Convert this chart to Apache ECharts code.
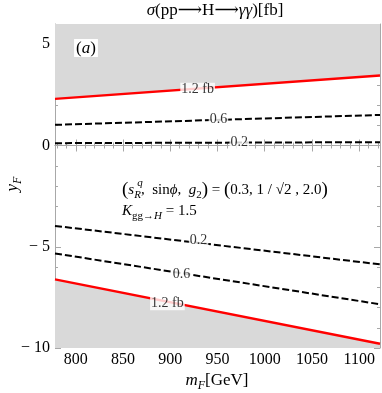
<!DOCTYPE html>
<html><head><meta charset="utf-8">
<script src="https://cdn.jsdelivr.net/npm/echarts@6/dist/echarts.min.js"></script>
<style>html,body{margin:0;padding:0;background:#fff}#c{width:382px;height:393px}</style>
</head><body><div id="c"></div>
<script>
// x samples (GeV) at the two ends of the plotted range
const mF = [778, 1122];
// contour values y_F at the ends of the range
const redTop = [2.30, 3.46];
const dash06Top = [1.02, 1.51];
const dash02Top = [0.115, 0.165];
const dash02Bot = [-3.97, -5.87];
const dash06Bot = [-5.33, -7.84];
const redBot = [-6.61, -9.79];
// contour labels [mF, yF, text]
const contourLabels = [
  [929, 2.75, '1.2 fb'],
  [951, 1.28, '0.6'],
  [973, 0.14, '0.2'],
  [930, -4.68, '0.2'],
  [912, -6.36, '0.6'],
  [897, -7.79, '1.2 fb']
];
// tick values
const xTicks = [800, 850, 900, 950, 1000, 1050, 1100];
const xMinor = [780, 790, 810, 820, 830, 840, 860, 870, 880, 890, 910, 920, 930, 940, 960, 970, 980, 990, 1010, 1020, 1030, 1040, 1060, 1070, 1080, 1090, 1110, 1120];
const yTicks = [-10, -5, 0, 5];
const yMinor = [-9, -8, -7, -6, -4, -3, -2, -1, 1, 2, 3, 4, 6];

const SERIF = 'Liberation Serif, DejaVu Serif, serif';
const AX = '#a8a8a8';
const pair = (xs, ys) => xs.map((x, i) => [x, ys[i]]);

function xAx(pos, ticks, len, labels, line) {
  return {
    type: 'value', min: mF[0], max: mF[1], position: pos,
    axisLine: { show: line, lineStyle: { color: AX, width: 1 } },
    axisTick: { show: true, inside: true, length: len, customValues: ticks, lineStyle: { color: AX } },
    axisLabel: labels ? { show: true, customValues: ticks, fontFamily: SERIF, fontSize: 16, color: '#000', margin: 4,
      formatter: v => String(v) } : { show: false },
    splitLine: { show: false }
  };
}
function yAx(pos, ticks, len, labels, line) {
  return {
    type: 'value', min: -10, max: 6, position: pos,
    axisLine: { show: line, onZero: false, lineStyle: { color: AX, width: 1 } },
    axisTick: { show: true, inside: true, length: len, customValues: ticks, lineStyle: { color: AX } },
    axisLabel: labels ? { show: true, customValues: ticks, fontFamily: SERIF, fontSize: 16, color: '#000', margin: 5,
      formatter: v => v < 0 ? '\u2212 ' + Math.abs(v) : String(v) } : { show: false },
    splitLine: { show: false }
  };
}

function mkRich(fs) {
  return {
    n: { fontFamily: SERIF, fontSize: fs, color: '#000', lineHeight: 22 },
    i: { fontFamily: SERIF, fontSize: fs, fontStyle: 'italic', color: '#000', lineHeight: 22 },
    bp: { fontFamily: SERIF, fontSize: fs + 4, color: '#000', lineHeight: 22 },
    sub: { fontFamily: SERIF, fontSize: Math.round(fs * 0.7), color: '#000', lineHeight: 22, verticalAlign: 'bottom' },
    subi: { fontFamily: SERIF, fontSize: Math.round(fs * 0.7), fontStyle: 'italic', color: '#000', lineHeight: 22, verticalAlign: 'bottom' }
  };
}

const chart = echarts.init(document.getElementById('c'), null, { renderer: 'canvas' });
chart.setOption({
  animation: false,
  backgroundColor: '#fff',
  grid: { left: 55, right: 2, top: 24, bottom: 45 },
  xAxis: [
    xAx('bottom', xTicks, 6, true, true),
    xAx('bottom', xMinor, 3, false, false),
    xAx('top', xTicks, 6, false, true),
    xAx('top', xMinor, 3, false, false)
  ],
  yAxis: [
    yAx('left', yTicks, 6, true, true),
    yAx('left', yMinor, 3, false, false),
    yAx('right', yTicks, 6, false, true),
    yAx('right', yMinor, 3, false, false)
  ],
  series: [
    { type: 'line', xAxisIndex: 0, yAxisIndex: 0, data: pair(mF, redTop), symbol: 'none', z: 1,
      lineStyle: { width: 0 }, areaStyle: { color: '#d9d9d9', opacity: 1, origin: 'end' } },
    { type: 'line', xAxisIndex: 0, yAxisIndex: 0, data: pair(mF, redBot), symbol: 'none', z: 1,
      lineStyle: { width: 0 }, areaStyle: { color: '#d9d9d9', opacity: 1, origin: 'start' } },
    { type: 'line', xAxisIndex: 0, yAxisIndex: 0, data: pair(mF, redTop), symbol: 'none', z: 3,
      lineStyle: { color: '#ff0000', width: 2.4 } },
    { type: 'line', xAxisIndex: 0, yAxisIndex: 0, data: pair(mF, redBot), symbol: 'none', z: 3,
      lineStyle: { color: '#ff0000', width: 2.4 } },
    { type: 'line', xAxisIndex: 0, yAxisIndex: 0, data: pair(mF, dash06Top), symbol: 'none', z: 3,
      lineStyle: { color: '#000', width: 2, type: [7, 3] } },
    { type: 'line', xAxisIndex: 0, yAxisIndex: 0, data: pair(mF, dash02Top), symbol: 'none', z: 3,
      lineStyle: { color: '#000', width: 2, type: [7, 3] } },
    { type: 'line', xAxisIndex: 0, yAxisIndex: 0, data: pair(mF, dash02Bot), symbol: 'none', z: 3,
      lineStyle: { color: '#000', width: 2, type: [7, 3] } },
    { type: 'line', xAxisIndex: 0, yAxisIndex: 0, data: pair(mF, dash06Bot), symbol: 'none', z: 3,
      lineStyle: { color: '#000', width: 2, type: [7, 3] } },
    { type: 'scatter', xAxisIndex: 0, yAxisIndex: 0, symbolSize: 0, z: 5,
      data: contourLabels.map(d => ({ value: [d[0], d[1]], name: d[2] })),
      label: { show: true, position: 'inside', formatter: p => p.name, fontFamily: SERIF, fontSize: 14,
        color: '#000', backgroundColor: '#fff', padding: [0, 1, 0, 1] } }
  ],
  graphic: [
    { type: 'text', z: 10, style: { x: 215, y: 11, textAlign: 'center', textVerticalAlign: 'middle',
      text: '{i|\u03c3}{n|(pp\u27f6H\u27f6}{i|\u03b3\u03b3}{n|)[fb]}', rich: mkRich(17) } },
    { type: 'text', z: 10, style: { x: 217, y: 381, textAlign: 'center', textVerticalAlign: 'middle',
      text: '{i|m}{subi|F}{n|[GeV]}', rich: mkRich(17) } },
    { type: 'text', z: 10, x: 13, y: 184, rotation: Math.PI / 2, style: { x: 0, y: 0, textAlign: 'center', textVerticalAlign: 'middle',
      text: '{i|y}{subi|F}', rich: mkRich(17) } },
    { type: 'text', z: 10, style: { x: 86, y: 48, textAlign: 'center', textVerticalAlign: 'middle',
      text: '{n|(}{i|a}{n|)}', rich: { n: { fontFamily: SERIF, fontSize: 17, color: '#000' }, i: { fontFamily: SERIF, fontSize: 17, fontStyle: 'italic', color: '#000' } },
      backgroundColor: '#fff', padding: [1, 2, 0, 2] } },
    { type: 'text', z: 10, style: { x: 122, y: 190, textAlign: 'left', textVerticalAlign: 'middle',
      text: '{bp|(}{i|s}{subi|R}{n|,  sin}{i|\u03d5}{n|,  }{i|g}{sub|2}{bp|)}{n| = }{bp|(}{n|0.3, 1 / \u221a2 , 2.0}{bp|)}', rich: mkRich(15) } },
    { type: 'text', z: 10, style: { x: 140, y: 183, textAlign: 'center', textVerticalAlign: 'middle',
      text: 'q', fontFamily: SERIF, fontSize: 11, fontStyle: 'italic', fill: '#000' } },
    { type: 'text', z: 10, style: { x: 122, y: 211, textAlign: 'left', textVerticalAlign: 'middle',
      text: '{i|K}{sub|gg\u2192}{subi|H}{n| = 1.5}', rich: mkRich(15) } }
  ]
});
</script></body></html>
